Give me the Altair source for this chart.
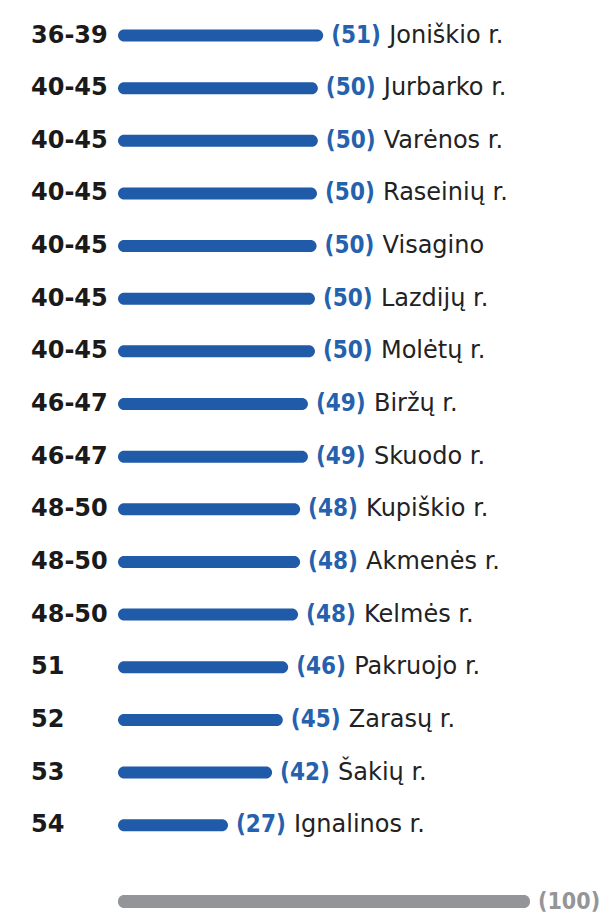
import altair as alt
import pandas as pd

ranks = ["36-39", "40-45", "40-45", "40-45", "40-45", "40-45", "40-45",
         "46-47", "46-47", "48-50", "48-50", "48-50", "51", "52", "53", "54"]
names = ["Joniškio r.", "Jurbarko r.", "Varėnos r.", "Raseinių r.", "Visagino",
         "Lazdijų r.", "Molėtų r.", "Biržų r.", "Skuodo r.", "Kupiškio r.",
         "Akmenės r.", "Kelmės r.", "Pakruojo r.", "Zarasų r.", "Šakių r.",
         "Ignalinos r."]
scores = [51, 50, 50, 50, 50, 50, 50, 49, 49, 48, 48, 48, 46, 45, 42, 27]
# bar lengths as drawn in the picture (same units as the 100 reference bar)
bar_length = [49.8, 48.5, 48.5, 48.3, 48.2, 47.8, 47.8, 46.1, 46.1, 44.2,
              44.2, 43.7, 41.3, 40.0, 37.4, 26.7]
max_score = 100
max_row = 16.45

df = pd.DataFrame({
    "row": list(range(len(names))),
    "rank": ranks,
    "name": names,
    "score": scores,
    "bar": bar_length,
    "start": [0] * len(names),
})
df["label"] = ["(" + str(s) + ")" for s in scores]

ref = pd.DataFrame({"row": [max_row], "start": [0], "bar": [max_score],
                    "label": ["(" + str(max_score) + ")"]})

BLUE = "#1f5ba8"
TXT_BLUE = "#2561ad"
GRAY = "#939598"
FONT = "DejaVu Sans"
FONT_C = "DejaVu Sans Condensed"

xs = alt.Scale(domain=[0, 100], range=[110, 522], nice=False, zero=False)
ys = alt.Scale(domain=[0, max_row], range=[22.5, 898.5], nice=False, zero=False)

X = alt.X("start:Q", scale=xs, axis=None)
Y = alt.Y("row:Q", scale=ys, axis=None)

bars = alt.Chart(df).mark_bar(color=BLUE, cornerRadius=6, height=12, orient="horizontal").encode(
    x=X, x2="bar:Q", y=Y)

rank_text = alt.Chart(df).mark_text(align="left", baseline="middle", font=FONT,
                                    fontWeight="bold", fontSize=24, color="#1a1a1a").encode(
    x=alt.value(23), y=Y, text="rank:N")

val_text = alt.Chart(df).mark_text(align="left", baseline="middle", font=FONT_C,
                                   fontWeight="bold", fontSize=24, dx=8, color=TXT_BLUE).encode(
    x=alt.X("bar:Q", scale=xs, axis=None), y=Y, text="label:N")

name_text = alt.Chart(df).mark_text(align="left", baseline="middle", font=FONT,
                                    fontSize=24, dx=66, color="#222222").encode(
    x=alt.X("bar:Q", scale=xs, axis=None), y=Y, text="name:N")

ref_bar = alt.Chart(ref).mark_bar(color=GRAY, cornerRadius=6, height=13, orient="horizontal").encode(
    x=X, x2="bar:Q", y=Y)

ref_text = alt.Chart(ref).mark_text(align="left", baseline="middle", font=FONT_C,
                                    fontWeight="bold", fontSize=23, dx=8, color=GRAY).encode(
    x=alt.X("bar:Q", scale=xs, axis=None), y=Y, text="label:N")

chart = alt.layer(bars, rank_text, val_text, name_text, ref_bar, ref_text).properties(
    width=595, height=911, padding=0,
    autosize=alt.AutoSizeParams(type="none"),
).configure_view(stroke=None)

chart.save("out.html", embed_options={"renderer": "svg", "actions": False})
